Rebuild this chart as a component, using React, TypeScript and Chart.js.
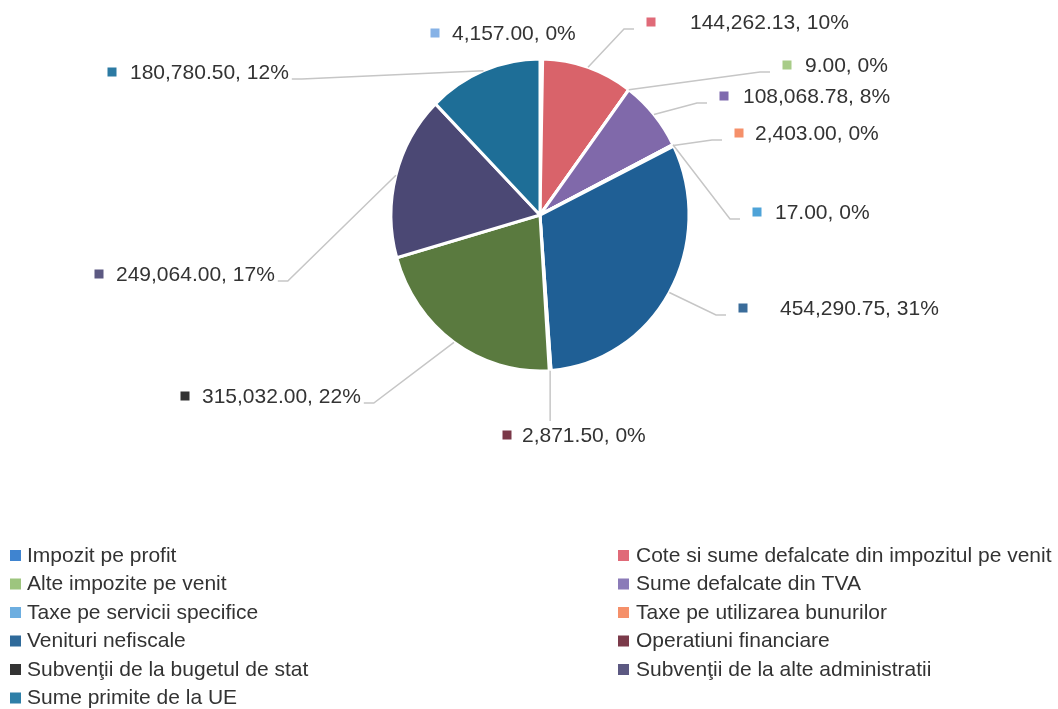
import React, { useEffect, useRef } from "react";
import { Chart, registerables } from "chart.js";

Chart.register(...registerables);

// ---------- data ----------
const categories = [
  "Impozit pe profit",
  "Cote si sume defalcate din impozitul pe venit",
  "Alte impozite pe venit",
  "Sume defalcate din TVA",
  "Taxe pe servicii specifice",
  "Taxe pe utilizarea bunurilor",
  "Venituri nefiscale",
  "Operatiuni financiare",
  "Subvenţii de la bugetul de stat",
  "Subvenţii de la alte administratii",
  "Sume primite de la UE",
];
const values = [4157.0, 144262.13, 9.0, 108068.78, 17.0, 2403.0, 454290.75, 2871.5, 315032.0, 249064.0, 180780.5];
const percentLabels = ["0%", "10%", "0%", "8%", "0%", "0%", "31%", "0%", "22%", "17%", "12%"];

// ---------- styles ----------
const sliceColors = [
  "#4483CF", "#D9636A", "#9DC57E", "#8069AA", "#6DAEE0", "#F5906A",
  "#1F5F95", "#7B3A4A", "#5A7A3F", "#4B4874", "#1E6E97",
];
const legendMarkerColors = [
  "#3F84D0", "#E06A78", "#9DC57E", "#8B7BB8", "#6DAEE0", "#F5906A",
  "#2F6A9A", "#7B3A4A", "#333333", "#5C5982", "#2E7FA8",
];
const labelMarkerColors = [
  "#86B2E6", "#E06A78", "#A8CC88", "#7F6AAE", "#4EA3D8", "#F5906A",
  "#3A6C9A", "#7A3848", "#333333", "#5C5982", "#2C7AA3",
];
// label marker offsets from pie centre, gap marker->text, leader line mode
const labelLayout = [
  { dx: -105, dy: -182, gap: 17, line: "none" },
  { dx: 111, dy: -193, gap: 39, line: "left" },
  { dx: 247, dy: -150, gap: 18, line: "left" },
  { dx: 184, dy: -119, gap: 19, line: "left" },
  { dx: 217, dy: -3, gap: 18, line: "left" },
  { dx: 199, dy: -82, gap: 16, line: "left" },
  { dx: 203, dy: 93, gap: 37, line: "left" },
  { dx: -33, dy: 220, gap: 15, line: "top" },
  { dx: -355, dy: 181, gap: 17, line: "right" },
  { dx: -441, dy: 59, gap: 17, line: "right" },
  { dx: -428, dy: -143, gap: 18, line: "right" },
];
const SCALE_Y = 1.047;
const FONT = "'Liberation Sans', Arial, sans-serif";
const LABEL_SIZE = 21;
const LEGEND_SIZE = 21;
const TEXT_COLOR = "#333333";

const fmt = (v: number) =>
  v.toLocaleString("en-US", { minimumFractionDigits: 2, maximumFractionDigits: 2 });

const stretchPlugin = {
  id: "stretch",
  beforeDatasetsDraw(chart: any) {
    const arc = chart.getDatasetMeta(0).data[0];
    const ctx = chart.ctx;
    ctx.save();
    ctx.translate(arc.x, arc.y);
    ctx.scale(1, SCALE_Y);
    ctx.translate(-arc.x, -arc.y);
  },
  afterDatasetsDraw(chart: any) {
    chart.ctx.restore();
  },
};

const labelPlugin = {
  id: "pieLabels",
  afterDraw(chart: any) {
    const ctx = chart.ctx;
    const meta = chart.getDatasetMeta(0);
    ctx.save();
    ctx.font = `${LABEL_SIZE}px ${FONT}`;
    ctx.textBaseline = "middle";
    meta.data.forEach((arc: any, i: number) => {
      const p = arc.getProps(["x", "y", "startAngle", "endAngle", "outerRadius"], true);
      const mid = (p.startAngle + p.endAngle) / 2;
      const ax = p.x + Math.cos(mid) * p.outerRadius;
      const ay = p.y + Math.sin(mid) * p.outerRadius * SCALE_Y;
      const L = labelLayout[i];
      const mx = p.x + L.dx;
      const my = p.y + L.dy;
      const text = `${fmt(values[i])}, ${percentLabels[i]}`;
      const tx = mx + L.gap;
      const tw = ctx.measureText(text).width;
      ctx.strokeStyle = "#C6C6C6";
      ctx.lineWidth = 1.5;
      ctx.beginPath();
      if (L.line === "left") {
        const ex = mx - 17, ey = my + 7;
        ctx.moveTo(ax, ay);
        ctx.lineTo(ex - 10, ey);
        ctx.lineTo(ex, ey);
      } else if (L.line === "right") {
        const ex = tx + tw + 3, ey = my + 7;
        ctx.moveTo(ax, ay);
        ctx.lineTo(ex + 10, ey);
        ctx.lineTo(ex, ey);
      } else if (L.line === "top") {
        ctx.moveTo(ax, ay);
        ctx.lineTo(ax, my - 14);
      }
      ctx.stroke();
      ctx.fillStyle = labelMarkerColors[i];
      ctx.fillRect(mx - 4.5, my - 4.5, 9, 9);
      ctx.fillStyle = TEXT_COLOR;
      ctx.fillText(text, tx, my + 1);
    });
    ctx.restore();
  },
};

const legendPlugin = {
  id: "gridLegend",
  afterDraw(chart: any) {
    const ctx = chart.ctx;
    const colMarkerX = [10, 618];
    const colTextX = [27, 636];
    ctx.save();
    ctx.font = `${LEGEND_SIZE}px ${FONT}`;
    ctx.textBaseline = "middle";
    categories.forEach((c, i) => {
      const col = i % 2;
      const row = Math.floor(i / 2);
      const y = 555 + row * 28.5;
      ctx.fillStyle = legendMarkerColors[i];
      ctx.fillRect(colMarkerX[col], y - 5, 11, 11);
      ctx.fillStyle = TEXT_COLOR;
      ctx.fillText(c, colTextX[col], y + 1, 418);
    });
    ctx.restore();
  },
};

export default function App() {
  const ref = useRef<HTMLCanvasElement | null>(null);
  useEffect(() => {
    if (!ref.current) return;
    const chart = new Chart(ref.current, {
      type: "pie",
      data: {
        labels: categories,
        datasets: [
          {
            data: values,
            backgroundColor: sliceColors,
            borderColor: "#ffffff",
            borderWidth: 3,
            hoverOffset: 0,
          },
        ],
      },
      options: {
        responsive: false,
        animation: false,
        radius: 149,
        layout: { padding: { left: 386, right: 364, top: 61, bottom: 340 } },
        plugins: {
          legend: { display: false },
          tooltip: { enabled: false },
        },
      } as any,
      plugins: [stretchPlugin, labelPlugin, legendPlugin],
    });
    return () => chart.destroy();
  }, []);
  return (
    <div style={{ position: "absolute", left: 0, top: 0, width: 1058, height: 709, background: "#fff" }}>
      <canvas ref={ref} width={1058} height={709} style={{ display: "block" }} />
    </div>
  );
}
